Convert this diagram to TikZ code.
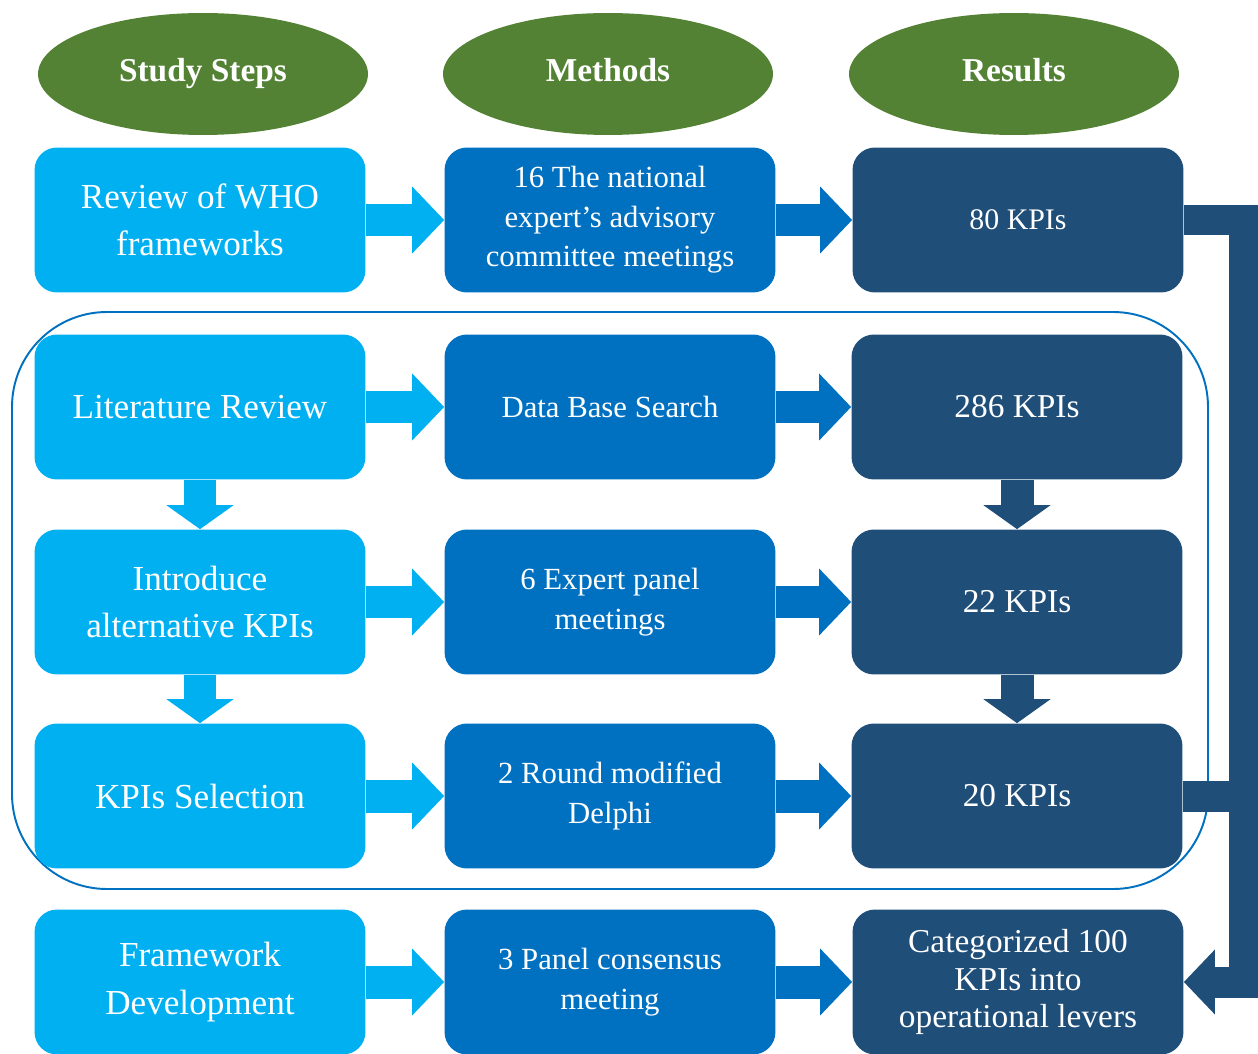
\documentclass[tikz,border=0pt]{standalone}
\usepackage{fontspec}
\setmainfont{Liberation Serif}
\usetikzlibrary{shapes.geometric,arrows.meta}

\definecolor{stepblue}{RGB}{0,176,240}
\definecolor{methblue}{RGB}{0,112,192}
\definecolor{resblue}{RGB}{31,78,121}
\definecolor{headgreen}{RGB}{84,130,53}

\tikzset{
  hdr/.style={ellipse,fill=headgreen,text=white,minimum width=6.6cm,minimum height=2.44cm,
    inner sep=0pt,text height=12pt,text depth=3pt,font=\fontsize{19}{23}\selectfont\bfseries},
  kbox/.style={rounded corners=0.45cm,minimum width=6.62cm,minimum height=2.9cm,
    text=white,align=center,inner sep=0pt},
  stepbox/.style={kbox,fill=stepblue,font=\fontsize{20}{27}\selectfont},
  methbox/.style={kbox,fill=methblue,font=\fontsize{17.5}{22.5}\selectfont},
  resbox/.style={kbox,fill=resblue,font=\fontsize{19}{21.5}\selectfont},
  fat/.style={line width=0.66cm,-{Triangle[width=1.3cm,length=0.64cm]}},
  fatdown/.style={line width=0.66cm,-{Triangle[width=1.32cm,length=0.48cm]}},
  bar/.style={draw=resblue,line width=0.62cm},
}

\begin{document}
\begin{tikzpicture}[x=0.02cm,y=-0.02cm]
\useasboundingbox (0,0) rectangle (1258,1054);

% frame round the literature part
\draw[methblue,line width=1.1pt,rounded corners=1.9cm] (12,312) rectangle (1208,889);

% headers
\node[hdr] (h1) at (203,74) {Study Steps};
\node[hdr] (h2) at (608,74) {Methods};
\node[hdr] (h3) at (1014,74) {Results};

% study steps
\node[stepbox] (s1) at (200,220) {Review of WHO\\frameworks};
\node[stepbox] (s2) at (200,407) {Literature Review};
\node[stepbox] (s3) at (200,602) {Introduce\\alternative KPIs};
\node[stepbox] (s4) at (200,796) {KPIs Selection};
\node[stepbox] (s5) at (200,982) {Framework\\Development};

% methods
\node[methbox] (m1) at (610,220) {16 The national\\expert’s advisory\\committee meetings};
\node[methbox] (m2) at (610,407) {Data Base Search};
\node[methbox] (m3) at (610,602) {6 Expert panel\\meetings};
\node[methbox] (m4) at (610,796) {2 Round modified\\Delphi};
\node[methbox] (m5) at (610,982) {3 Panel consensus\\meeting};

% results
\node[resbox,font=\fontsize{17}{21}\selectfont] (r1) at (1018,220) {80 KPIs};
\node[resbox] (r2) at (1017,407) {286 KPIs};
\node[resbox] (r3) at (1017,602) {22 KPIs};
\node[resbox] (r4) at (1017,796) {20 KPIs};
\node[resbox] (r5) at (1018,982) {Categorized 100\\KPIs into\\operational levers};

\foreach \i in {1,...,5}{
  \draw[fat,stepblue] (s\i.east) -- (m\i.west);
  \draw[fat,methblue] (m\i.east) -- (r\i.west);
}

\foreach \a/\b in {s2/s3,s3/s4}{
  \draw[fatdown,stepblue] (\a) -- (\b);
}
\foreach \a/\b in {r2/r3,r3/r4}{
  \draw[fatdown,resblue] (\a) -- (\b);
}

% bar on the right
\draw[bar] (r4.east) -- ++(61,0);
\draw[bar,-{Triangle[width=1.26cm,length=0.62cm]}] (r1.east) -- ++(61,0) |- (r5.east);
\end{tikzpicture}
\end{document}
